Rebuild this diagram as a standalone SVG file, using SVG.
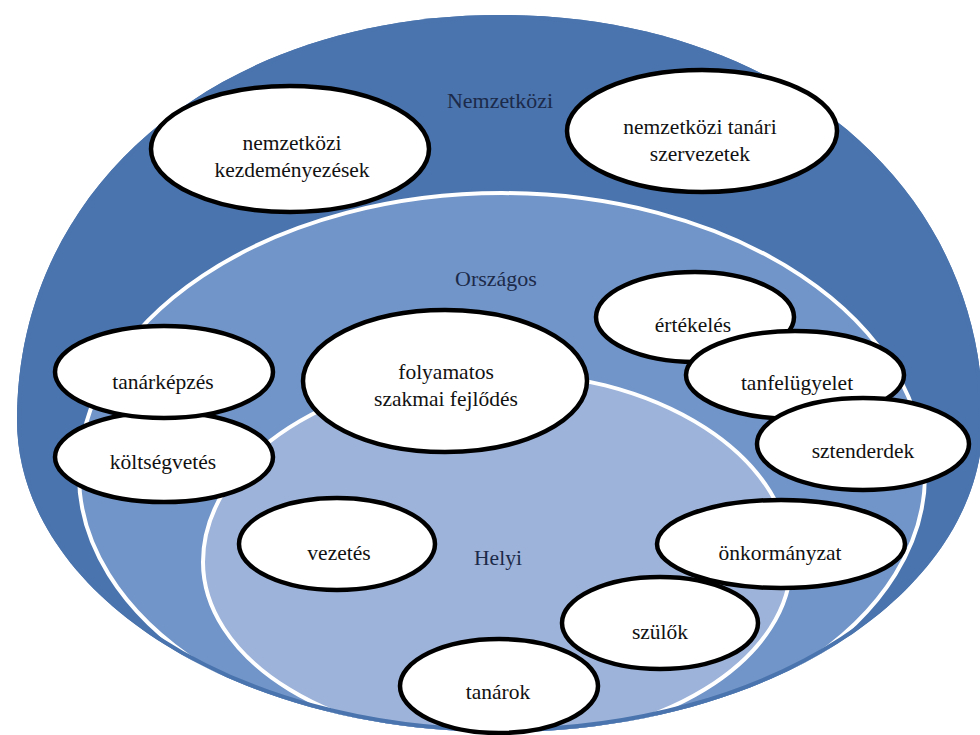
<svg xmlns="http://www.w3.org/2000/svg" width="980" height="735" viewBox="0 0 980 735">
  <style>
    .node ellipse { fill: #ffffff; stroke: #000000; stroke-width: 4.5; }
    .node text { font-size: 21.5px; fill: #111111; text-anchor: middle; }
    .ring-label { font-size: 22px; fill: #1c2a4a; text-anchor: middle; }
    .ring-line { stroke: #ffffff; stroke-width: 4; }
  </style>
  <defs>
    <path id="outer-shape" d="M 500,15 C 780,15 983,185 983,420 C 983,592 769,732 500,732 C 233,732 17,592 17,420 C 17,185 220,15 500,15 Z"/>
    <clipPath id="outer-clip">
      <use href="#outer-shape"/>
    </clipPath>
  </defs>

  <rect width="980" height="735" fill="#ffffff"/>

  <!-- nested levels -->
  <g id="ring-nemzetkozi">
    <use href="#outer-shape" fill="#4a74ad"/>
  </g>
  <g clip-path="url(#outer-clip)">
    <g id="ring-orszagos">
      <path class="ring-line" fill="#7195c8" d="M 79,475 A 423,282 0 0 1 925,475 A 423,270 0 0 1 79,475 Z"/>
    </g>
    <g id="ring-helyi">
      <path class="ring-line" fill="#9db3d9" d="M 203,562 A 294,190 0 0 1 791,562 A 294,180 0 0 1 203,562 Z"/>
    </g>
    <!-- darker rim along the outer edge -->
    <use href="#outer-shape" fill="none" stroke="#4a74ad" stroke-width="8"/>
  </g>

  <g font-family="'Liberation Serif', 'DejaVu Serif', serif">
    <text class="ring-label" x="500" y="108" textLength="106" lengthAdjust="spacingAndGlyphs">Nemzetközi</text>
    <text class="ring-label" x="496" y="286">Országos</text>
    <text class="ring-label" x="498" y="565" textLength="48" lengthAdjust="spacingAndGlyphs">Helyi</text>

    <!-- items -->
    <g id="node-nemzetkozi-kezdemenyezesek" class="node">
      <ellipse cx="290" cy="149" rx="139" ry="63"/>
      <text x="292" y="150">nemzetközi</text>
      <text x="292" y="177">kezdeményezések</text>
    </g>
    <g id="node-nemzetkozi-tanari-szervezetek" class="node">
      <ellipse cx="702" cy="131" rx="135" ry="61"/>
      <text x="700" y="134">nemzetközi tanári</text>
      <text x="700" y="161">szervezetek</text>
    </g>
    <g id="node-koltsegvetes" class="node">
      <ellipse cx="164" cy="457" rx="109" ry="45"/>
      <text x="163" y="469">költségvetés</text>
    </g>
    <g id="node-tanarkepzes" class="node">
      <ellipse cx="164" cy="372" rx="109" ry="46"/>
      <text x="163" y="389">tanárképzés</text>
    </g>
    <g id="node-folyamatos-szakmai-fejlodes" class="node">
      <ellipse cx="445" cy="381" rx="142" ry="71"/>
      <text x="446" y="379">folyamatos</text>
      <text x="446" y="406">szakmai fejlődés</text>
    </g>
    <g id="node-ertekeles" class="node">
      <ellipse cx="695" cy="317" rx="99" ry="45"/>
      <text x="693" y="332">értékelés</text>
    </g>
    <g id="node-tanfelugyelet" class="node">
      <ellipse cx="795" cy="375" rx="109" ry="44"/>
      <text x="797" y="390">tanfelügyelet</text>
    </g>
    <g id="node-sztenderdek" class="node">
      <ellipse cx="863" cy="444" rx="106" ry="46"/>
      <text x="863" y="458">sztenderdek</text>
    </g>
    <g id="node-vezetes" class="node">
      <ellipse cx="337" cy="544" rx="98" ry="46"/>
      <text x="339" y="560">vezetés</text>
    </g>
    <g id="node-tanarok" class="node">
      <ellipse cx="499" cy="686" rx="99" ry="47"/>
      <text x="498" y="699">tanárok</text>
    </g>
    <g id="node-szulok" class="node">
      <ellipse cx="660" cy="623" rx="98" ry="46"/>
      <text x="660" y="639">szülők</text>
    </g>
    <g id="node-onkormanyzat" class="node">
      <ellipse cx="781" cy="544" rx="124" ry="44"/>
      <text x="780" y="560">önkormányzat</text>
    </g>
  </g>
</svg>
